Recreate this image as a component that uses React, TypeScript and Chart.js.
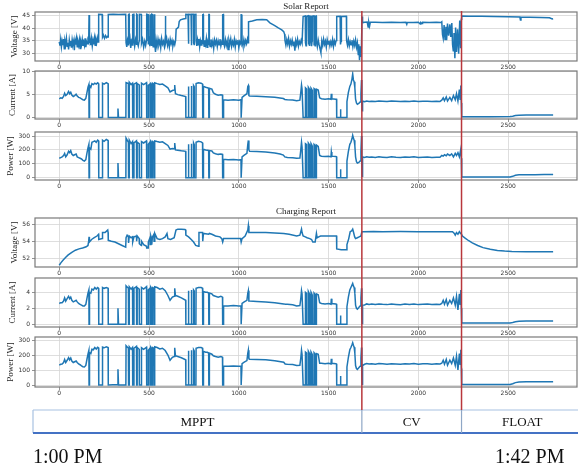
import React, { useEffect, useRef } from 'react';
import { Chart, registerables } from 'chart.js';

Chart.register(...registerables);
Chart.defaults.font.family = 'DejaVu Sans';

type Pt = [number, number];

const X_TICKS = [0, 500, 1000, 1500, 2000, 2500];
const X_MIN = -135;
const X_MAX = 2883;
const PHASE_BOUNDS = [1685, 2240];
const PHASE_LABELS = ['MPPT', 'CV', 'FLOAT'];
const TIME_LABELS = ['1:00 PM', '1:42 PM'];
const REPORT_TITLES = ['Solar Report', 'Charging Report'];

const solarVoltage: Pt[] = [
  [0,34.5],[4,33],[8,35.5],[12,32.5],[16,34.8],[20,33.2],[24,35.6],[28,31.8],[32,34.9],[36,33.5],[40,35.9],[44,32.8],[48,34.2],[52,31.5],[56,35.2],[60,33.1],[64,34.9],[68,32.2],[72,35.4],[76,33.6],[80,34.8],[84,31.2],[88,35.1],[92,33.4],[96,35.8],[100,32.6],[104,34.6],[108,33.2],[112,35.3],[116,31.9],[120,34.7],[124,33.5],[128,35.5],[132,32.9],[136,34.4],[140,33.1],[144,35.9],[148,32.4],[152,34.6],[156,33.8],[160,35.2],[164,34.4],[166,45.2],[168,45.0],[169,34.1],[172,35.4],[176,33.2],[180,35.8],[184,32.9],[188,35.1],[192,33.5],[196,36],[200,33.2],[204,35.4],[208,34.1],[212,36.1],[216,34.5],[219,35.2],
  [220,45.5],[239,45.4],[241,36.4],[246,37.2],[252,35.9],[258,37.0],[264,36.2],[270,36.8],[272,36.5],[273,45.4],[300,45.5],[330,45.4],[370,45.5],
  [371,45.5],[372,34.2],[376,32.5],[380,35.1],[385,33.4],[386,45.4],[389,45.5],[390,33.8],[394,35.6],[398,32.1],[403,34.7],[408,33.3],[409,45.4],[415,45.5],[416,34.9],[420,32.8],[425,35.4],[430,33.6],[431,45.5],[433,45.4],[434,34.5],[440,32.9],[445,35.0],[446,45.5],[457,45.4],[458,33.9],[464,35.5],[470,32.4],[476,34.8],[481,33.1],[486,35.2],[487,45.5],[495,45.4],[496,33.5],[500,35.1],[505,32.8],[506,45.4],[509,45.5],[510,34.6],[514,33.2],[515,45.5],[518,45.4],[519,35.3],[523,32.6],[527,34.4],[528,45.5],[531,45.5],[532,33.8],
  [536,30.5],[540,35.2],[545,32.9],[550,35.6],[555,33.4],[560,34.9],[565,32.2],[570,35.8],[575,33.6],[580,34.7],[585,32.8],[589,35.4],[591,44.8],[593,34.0],[598,35.9],[603,33.1],[608,34.8],[613,32.5],[618,35.5],[623,33.7],[628,35.1],[633,32.9],[638,34.6],[643,33.4],[648,35.2],
  [651,39.6],[658,40.0],[664,40.4],[668,42.6],[675,43.3],[690,43.6],[704,43.8],
  [705,45.5],[717,45.4],[718,34.5],[721,33.8],[722,45.5],[734,45.4],[735,33.2],[737,34.6],[738,45.5],[747,45.5],[748,34.1],[751,33.5],[752,45.4],[761,45.5],
  [762,34.8],[766,32.9],[770,35.3],[774,33.4],[778,35.7],[782,32.6],[786,34.9],[790,33.3],[794,35.4],[798,33.9],[799,45.3],[802,45.4],[803,34.7],[807,32.8],[811,35.2],[815,33.6],[819,35.8],[823,32.4],[827,34.6],[832,33.5],[833,45.4],[835,45.4],[836,34.3],[840,32.7],[845,35.5],[850,33.2],[855,34.8],[860,31.9],[865,35.3],[870,33.7],[875,35.1],[880,32.6],[885,34.9],[890,33.4],[895,35.6],[900,32.9],[905,34.5],[909,33.6],[910,45.3],[914,45.4],[915,34.2],[920,32.8],[925,35.4],[930,33.1],[935,34.9],[940,31.5],[945,35.2],[950,33.6],[955,35.7],[960,32.7],[965,34.6],[970,33.3],[975,35.5],[980,32.4],[985,34.9],[990,33.7],[995,35.3],[1000,32.2],[1005,34.6],[1012,33.5],[1013,45.3],[1017,45.4],[1018,34.6],[1023,32.9],[1028,35.4],[1033,33.3],[1038,35.1],[1043,33.8],[1048,35.6],[1052,34.2],
  [1054,42.5],[1075,42.8],[1100,43.3],[1130,43.4],[1155,43.3],[1173,42.1],[1200,41.0],[1220,40.1],[1239,39.3],[1250,38.6],[1255,37.5],
  [1257,35.1],[1262,33.2],[1267,35.4],[1272,33.7],[1277,35.8],[1282,32.9],[1287,34.9],[1292,33.5],[1297,35.3],[1302,33.1],[1307,34.7],[1312,31.0],[1317,35.0],[1322,33.4],[1327,35.5],[1332,32.8],[1337,34.6],[1342,33.6],[1347,35.2],[1352,34.0],
  [1358,44.6],[1370,44.8],[1371,34.2],[1374,33.0],[1376,35.1],[1377,44.7],[1386,44.9],[1387,33.5],[1390,35.0],[1393,33.2],[1394,44.8],[1401,44.7],[1402,34.6],[1405,32.8],[1408,34.9],[1409,44.8],[1418,44.9],[1419,33.4],[1422,35.2],[1425,33.0],[1426,44.7],[1431,44.8],
  [1432,34.8],[1437,32.6],[1442,35.3],[1447,33.4],[1452,31.8],[1457,30.2],[1462,34.9],[1467,33.1],[1472,35.6],[1477,33.5],[1482,34.8],[1487,32.4],[1492,35.4],[1497,33.7],[1502,35.0],[1507,32.9],[1512,34.6],[1517,33.3],[1522,35.5],[1527,32.7],[1532,34.9],[1537,33.6],[1542,35.1],
  [1545,44.6],[1564,44.7],[1566,33.5],[1569,34.8],[1571,44.6],[1599,44.7],
  [1600,35.0],[1605,33.2],[1610,35.4],[1615,32.9],[1620,34.6],[1625,33.4],[1630,35.2],[1635,32.6],[1640,34.8],[1645,33.1],[1650,35.3],[1655,32.4],[1660,34.2],[1665,29.5],[1668,33.6],[1672,27.2],[1676,32.8],[1680,28.5],[1683,33.5],
  [1686,44.6],[1689,42.1],[1700,42.3],[1715,42.4],[1720,40.4],[1724,42.2],[1728,40.8],[1732,42.3],[1760,42.3],[1800,42.25],[1850,42.3],[1900,42.2],[1930,42.3],[1935,41.5],[1938,42.2],[1970,42.25],[2000,42.3],[2010,41.6],[2013,42.2],[2020,41.8],[2023,42.3],[2060,42.25],[2100,42.3],[2125,42.2],
  [2130,42.5],[2134,37.5],[2138,36.0],[2143,41.2],[2148,35.5],[2153,40.5],[2157,35.2],[2162,41.8],[2168,37.0],[2175,41.5],[2180,36.5],[2186,42.0],[2190,33.5],[2194,31.0],[2198,38.0],[2203,28.0],[2207,40.2],[2212,30.5],[2218,39.5],[2224,29.8],[2230,43.0],[2235,32.0],[2239,43.5],
  [2241,44.8],[2280,44.75],[2350,44.7],[2420,44.6],[2500,44.5],[2565,44.4],[2568,43.2],[2571,44.4],[2620,44.3],[2680,44.2],[2730,44.1],[2745,43.6],[2750,43.7],
];

const solarCurrent: Pt[] = [
  [0,4.1],[8,4.3],[16,4.2],[24,4.6],[30,5.3],[36,4.8],[44,5.1],[52,5.7],[58,5.2],[64,5.5],[70,4.9],[78,4.6],[86,4.8],[94,5.1],[100,4.7],[108,4.4],[116,4.3],[124,4.1],[132,3.9],[140,3.8],[148,4.2],[154,5.4],[160,6.6],[165,7.2],[166,0],[168,0],[169,7.0],[176,6.6],[182,7.4],[190,7.2],[198,7.5],[206,7.3],[214,7.6],[219,7.4],[220,0],[240,0],[241,7.5],[250,7.3],[262,7.6],[272,7.4],[273,0],[326,0],[327,2.0],[330,0],[371,0],
  [372,7.6],[385,7.4],[386,0],[389,0],[390,7.7],[400,7.2],[408,7.5],[409,0],[415,0],[416,7.3],[430,7.6],[431,0],[433,0],[434,7.4],[445,7.1],[446,0],[457,0],[458,7.5],[470,7.2],[486,7.6],[487,0],[495,0],[496,7.0],[505,7.3],[506,0],[509,0],[510,7.4],[514,7.2],[515,0],[518,0],[519,7.5],[527,7.3],[528,0],[531,0],[532,7.6],
  [545,7.4],[560,7.2],[575,7.3],[590,6.9],[605,6.5],[617,5.6],[630,5.9],[640,6.0],[643,7.1],[647,5.2],[660,5.0],[680,4.8],[704,4.6],
  [705,0],[717,0],[718,6.5],[721,6.8],[722,0],[734,0],[735,6.6],[737,6.9],[738,0],[747,0],[748,7.0],[751,6.8],[752,0],[761,0],[762,7.4],[775,7.6],[790,7.5],[798,7.3],[799,0],[802,0],[803,6.8],[815,6.6],[825,6.5],[832,6.4],[833,0],[835,0],[836,6.4],[850,6.2],[858,5.4],[870,5.1],[885,4.9],[900,5.0],[909,4.9],[910,0],[914,0],[915,3.9],[940,3.8],[970,3.9],[1000,3.8],[1012,3.9],[1013,0],[1017,0],[1018,4.4],[1030,4.8],[1045,5.2],[1050,6.8],[1053,7.0],[1056,4.8],
  [1060,4.7],[1100,4.65],[1150,4.55],[1200,4.45],[1248,4.15],[1256,3.95],
  [1270,3.9],[1300,3.85],[1322,3.7],[1340,3.8],[1345,5.5],[1349,7.1],[1352,6.2],[1358,0],
  [1370,0],[1371,6.5],[1376,6.3],[1377,0],[1386,0],[1387,6.6],[1393,6.2],[1394,0],[1401,0],[1402,6.4],[1408,6.0],[1409,0],[1418,0],[1419,6.3],[1425,6.1],[1426,0],[1431,0],[1432,6.2],[1442,6.0],[1450,4.3],
  [1460,4.1],[1480,4.0],[1500,4.1],[1513,4.0],[1515,5.2],[1518,4.1],[1540,4.0],[1544,4.0],[1545,0],[1565,0],[1566,1.8],[1568,0],[1600,0],
  [1602,3.5],[1610,5.5],[1618,6.8],[1624,7.3],[1630,8.4],[1634,9.5],[1638,8.2],[1642,7.8],[1646,6.5],[1650,4.0],[1655,3.2],[1660,2.9],[1668,3.1],[1675,3.4],[1680,5.2],[1683,8.2],[1685,3.2],[1687,1.5],[1689,3.6],
  [1700,3.45],[1712,3.62],[1725,3.5],[1740,3.58],[1760,3.52],[1780,3.6],[1800,3.55],[1825,3.5],[1850,3.6],[1875,3.54],[1900,3.5],[1925,3.58],[1950,3.53],[1975,3.6],[2000,3.5],[2025,3.55],[2050,3.58],[2075,3.5],[2100,3.56],[2120,3.52],[2130,3.8],[2138,4.3],[2145,3.7],[2155,4.5],[2162,3.6],[2175,4.4],[2185,3.7],[2195,4.8],[2205,3.9],[2212,5.2],[2220,3.6],[2228,6.1],[2232,4.0],[2236,7.0],[2239,3.2],
  [2241,0.2],[2300,0.2],[2400,0.2],[2510,0.22],[2525,0.3],[2540,0.45],[2560,0.52],[2600,0.55],[2650,0.55],[2700,0.56],[2750,0.57],
];

const solarPower: Pt[] = [
  [0,140],[8,145],[16,150],[24,160],[30,175],[36,150],[44,165],[52,190],[58,180],[64,195],[70,170],[78,160],[86,165],[94,170],[100,150],[108,145],[116,140],[124,135],[132,125],[140,120],[148,130],[154,175],[160,215],[165,240],[166,0],[168,0],[169,215],[176,205],[182,255],[190,260],[198,265],[206,255],[214,270],[219,265],[220,0],[240,0],[241,270],[250,262],[262,275],[272,268],[273,0],[326,0],[327,105],[330,0],[371,0],
  [372,285],[385,255],[386,0],[389,0],[390,270],[400,245],[408,260],[409,0],[415,0],[416,250],[430,265],[431,0],[433,0],[434,255],[445,245],[446,0],[457,0],[458,260],[470,250],[486,265],[487,0],[495,0],[496,240],[505,255],[506,0],[509,0],[510,260],[514,250],[515,0],[518,0],[519,262],[527,255],[528,0],[531,0],[532,265],
  [545,260],[560,255],[575,258],[590,245],[605,232],[617,205],[630,210],[640,208],[643,250],[647,200],[660,198],[680,194],[704,190],
  [705,0],[717,0],[718,230],[721,240],[722,0],[734,0],[735,235],[737,245],[738,0],[747,0],[748,250],[751,240],[752,0],[761,0],[762,255],[775,262],[790,258],[798,250],[799,0],[802,0],[803,205],[815,200],[825,197],[832,195],[833,0],[835,0],[836,195],[850,192],[858,178],[870,172],[885,168],[900,170],[909,168],[910,0],[914,0],[915,132],[940,130],[970,131],[1000,128],[1012,130],[1013,0],[1017,0],[1018,150],[1030,162],[1045,175],[1050,240],[1053,268],[1056,200],
  [1060,190],[1100,188],[1150,185],[1200,178],[1230,170],[1248,163],[1256,150],
  [1270,145],[1300,143],[1322,140],[1340,142],[1345,200],[1349,255],[1352,220],[1358,0],
  [1370,0],[1371,245],[1376,240],[1377,0],[1386,0],[1387,250],[1393,238],[1394,0],[1401,0],[1402,245],[1408,230],[1409,0],[1418,0],[1419,240],[1425,232],[1426,0],[1431,0],[1432,235],[1442,225],[1450,160],
  [1460,155],[1480,152],[1500,155],[1513,150],[1515,185],[1518,155],[1540,152],[1544,150],[1545,0],[1565,0],[1566,60],[1568,0],[1600,0],
  [1602,120],[1610,190],[1618,240],[1624,255],[1630,280],[1634,305],[1638,285],[1642,270],[1646,230],[1650,150],[1655,115],[1660,105],[1668,110],[1675,120],[1680,190],[1683,300],[1685,120],[1687,10],[1689,150],
  [1700,146],[1712,150],[1725,147],[1740,149],[1760,146],[1780,150],[1800,148],[1825,146],[1850,150],[1875,147],[1900,146],[1925,149],[1950,147],[1975,150],[2000,146],[2025,148],[2050,149],[2075,146],[2100,148],[2120,147],[2130,160],[2138,155],[2145,165],[2155,158],[2162,170],[2175,160],[2185,172],[2195,150],[2205,175],[2212,160],[2220,180],[2228,150],[2236,205],[2239,140],
  [2241,5],[2300,5],[2400,5],[2510,5],[2525,10],[2540,18],[2560,21],[2600,22],[2650,22],[2700,23],[2750,23],
];

const chargeVoltage: Pt[] = [
  [0,51.2],[10,51.5],[22,51.8],[35,52.1],[50,52.4],[70,52.7],[90,52.95],[110,53.1],[130,53.2],[150,53.35],[160,53.5],[164,54.0],[166,54.5],[168,53.9],[180,54.2],[195,54.4],[210,54.6],[219,54.8],[220,54.2],[239,54.3],[241,55.0],[255,55.0],[265,55.2],[270,55.3],[272,55.0],[273,54.1],[290,54.0],[310,53.9],[330,53.7],[350,53.5],[370,53.3],
  [372,54.4],[378,54.7],[385,54.5],[386,53.8],[390,54.6],[400,54.4],[408,54.5],[409,53.9],[416,54.5],[430,54.6],[431,54.0],[434,54.6],[445,54.3],[446,53.7],[457,53.5],[458,54.0],[470,53.6],[486,53.4],[487,53.2],[495,53.2],[496,53.9],[505,54.4],[506,53.6],[510,54.6],[514,54.3],[515,53.6],[519,54.5],[527,54.8],[528,54.0],[532,54.9],
  [545,54.3],[560,54.2],[575,54.3],[590,54.5],[600,54.9],[605,54.3],[620,54.2],[640,54.4],[650,55.3],[660,55.4],[680,55.4],[700,55.35],[704,55.3],
  [705,54.7],[720,54.5],[735,54.2],[748,53.9],[760,53.5],[775,53.4],[778,55.0],[790,55.0],[798,55.0],[799,54.0],[803,54.9],[832,54.8],[836,54.9],[850,54.8],[870,54.6],[895,54.5],[905,54.3],[910,53.9],[915,54.3],[960,54.3],[1010,54.3],[1013,53.9],[1018,54.3],[1035,54.6],[1050,55.3],[1053,55.8],[1056,55.0],
  [1100,55.0],[1150,55.0],[1200,54.95],[1250,54.9],[1280,54.8],[1322,54.6],[1340,54.7],[1349,55.4],[1352,55.0],[1358,54.6],[1370,54.5],[1380,54.4],[1395,54.3],[1405,54.2],[1412,53.9],[1425,53.9],[1432,54.9],[1436,54.4],[1445,54.5],[1455,54.6],[1500,54.6],[1544,54.6],
  [1545,53.1],[1570,53.0],[1599,53.0],[1602,53.6],[1612,54.3],[1620,55.1],[1628,55.2],[1634,55.4],[1638,55.1],[1645,54.5],[1650,54.3],[1660,54.4],[1670,54.5],[1680,54.6],[1685,55.1],
  [1690,55.1],[1750,55.12],[1800,55.1],[1900,55.12],[2000,55.1],[2100,55.1],[2190,55.1],[2200,54.9],[2205,54.7],[2212,55.0],[2220,54.8],[2228,55.1],[2235,54.9],[2240,54.8],
  [2245,54.6],[2260,54.35],[2280,54.05],[2300,53.8],[2330,53.5],[2360,53.25],[2400,53.05],[2440,52.92],[2480,52.85],[2520,52.8],[2600,52.78],[2700,52.78],[2750,52.78],
];

const chargeCurrent: Pt[] = [
  [0,2.6],[8,2.7],[16,2.7],[24,2.9],[30,3.3],[36,2.9],[44,3.2],[52,3.5],[58,3.2],[64,3.4],[70,3.0],[78,2.8],[86,2.9],[94,3.0],[100,2.8],[108,2.6],[116,2.5],[124,2.4],[132,2.3],[140,2.3],[148,2.5],[154,3.2],[160,3.9],[165,4.3],[166,0],[168,0],[169,4.0],[176,3.9],[182,4.4],[190,4.3],[198,4.6],[206,4.4],[214,4.6],[219,4.5],[220,0],[240,0],[241,4.6],[250,4.5],[262,4.6],[272,4.5],[273,0],[326,0.05],[327,2.0],[330,0],[371,0],
  [372,4.8],[385,4.5],[386,0],[389,0],[390,4.7],[400,4.4],[408,4.6],[409,0],[415,0],[416,4.5],[430,4.7],[431,0],[433,0],[434,4.6],[445,4.4],[446,0],[457,0],[458,4.6],[470,4.4],[486,4.7],[487,0],[495,0],[496,4.3],[505,4.5],[506,0],[509,0],[510,4.6],[514,4.4],[515,0],[518,0],[519,4.6],[527,4.5],[528,0],[531,0],[532,4.7],
  [545,4.6],[560,4.4],[575,4.5],[590,4.2],[605,3.6],[617,3.0],[630,3.4],[640,3.5],[643,4.5],[647,3.6],[660,3.5],[680,3.3],[704,3.0],
  [705,0],[717,0],[718,4.0],[721,4.2],[722,0],[734,0],[735,4.1],[737,4.3],[738,0],[747,0],[748,4.3],[751,4.2],[752,0],[761,0],[762,4.5],[775,4.6],[790,4.6],[798,4.5],[799,0],[802,0],[803,4.1],[815,4.0],[825,4.0],[832,3.9],[833,0],[835,0],[836,3.9],[850,3.8],[858,3.6],[870,3.5],[885,3.4],[900,3.5],[909,3.4],[910,0],[914,0],[915,2.3],[940,2.3],[970,2.35],[1000,2.3],[1012,2.3],[1013,0],[1017,0],[1018,2.6],[1030,2.8],[1045,3.0],[1050,3.9],[1053,4.2],[1056,2.9],
  [1060,2.9],[1100,2.85],[1150,2.8],[1200,2.7],[1250,2.55],[1258,2.5],
  [1270,2.5],[1300,2.45],[1322,2.3],[1340,2.35],[1345,3.2],[1349,4.2],[1352,3.8],[1358,0],
  [1370,0],[1371,4.0],[1376,3.9],[1377,0],[1386,0],[1387,4.1],[1393,3.8],[1394,0],[1401,0],[1402,4.0],[1408,3.7],[1409,0],[1418,0],[1419,3.9],[1425,3.7],[1426,0],[1431,0],[1432,3.8],[1442,3.7],[1450,2.7],
  [1460,2.6],[1480,2.55],[1500,2.6],[1513,2.5],[1515,3.2],[1518,2.6],[1540,2.55],[1544,2.5],[1545,0],[1565,0],[1566,1.1],[1568,0],[1600,0],
  [1602,2.2],[1610,3.4],[1618,4.3],[1624,4.6],[1630,4.9],[1634,5.1],[1638,4.8],[1642,4.6],[1646,3.9],[1650,2.4],[1655,2.0],[1660,1.9],[1668,2.1],[1675,2.3],[1680,3.3],[1683,4.5],[1685,1.0],[1687,0.1],[1689,2.4],
  [1700,2.42],[1712,2.55],[1725,2.48],[1740,2.53],[1760,2.47],[1780,2.55],[1800,2.5],[1825,2.46],[1850,2.54],[1875,2.49],[1900,2.45],[1925,2.53],[1950,2.48],[1975,2.54],[2000,2.46],[2025,2.5],[2050,2.53],[2075,2.46],[2100,2.51],[2120,2.48],[2130,2.6],[2138,3.0],[2145,2.5],[2155,3.1],[2162,2.4],[2175,3.0],[2185,2.6],[2195,3.3],[2205,2.4],[2212,3.5],[2220,1.8],[2228,3.8],[2232,2.5],[2236,4.3],[2239,2.0],
  [2241,0.15],[2300,0.15],[2400,0.15],[2510,0.16],[2525,0.22],[2540,0.32],[2560,0.38],[2600,0.4],[2700,0.41],[2750,0.42],
];

const chargePower: Pt[] = [
  [0,133],[8,138],[16,140],[24,150],[30,170],[36,150],[44,165],[52,183],[58,168],[64,180],[70,160],[78,150],[86,155],[94,160],[100,150],[108,140],[116,135],[124,128],[132,122],[140,120],[148,130],[154,170],[160,205],[165,230],[166,0],[168,0],[169,215],[176,210],[182,238],[190,235],[198,250],[206,240],[214,252],[219,248],[220,0],[240,0],[241,252],[250,248],[262,255],[272,250],[273,0],[326,3],[327,105],[330,0],[371,0],
  [372,262],[385,245],[386,0],[389,0],[390,255],[400,238],[408,250],[409,0],[415,0],[416,245],[430,258],[431,0],[433,0],[434,250],[445,238],[446,0],[457,0],[458,248],[470,238],[486,252],[487,0],[495,0],[496,232],[505,245],[506,0],[509,0],[510,250],[514,240],[515,0],[518,0],[519,250],[527,245],[528,0],[531,0],[532,255],
  [545,250],[560,240],[575,245],[590,230],[605,200],[617,165],[630,185],[640,190],[643,248],[647,195],[660,190],[680,182],[704,168],
  [705,0],[717,0],[718,218],[721,228],[722,0],[734,0],[735,222],[737,232],[738,0],[747,0],[748,235],[751,228],[752,0],[761,0],[762,245],[775,250],[790,250],[798,245],[799,0],[802,0],[803,224],[815,218],[825,218],[832,212],[833,0],[835,0],[836,212],[850,205],[858,195],[870,190],[885,185],[900,190],[909,185],[910,0],[914,0],[915,125],[940,125],[970,127],[1000,125],[1012,125],[1013,0],[1017,0],[1018,142],[1030,152],[1045,163],[1050,212],[1053,232],[1056,175],
  [1060,172],[1100,170],[1150,168],[1200,162],[1250,152],[1258,140],
  [1270,138],[1300,136],[1322,130],[1340,132],[1345,180],[1349,232],[1352,205],[1358,0],
  [1370,0],[1371,220],[1376,215],[1377,0],[1386,0],[1387,225],[1393,210],[1394,0],[1401,0],[1402,220],[1408,205],[1409,0],[1418,0],[1419,215],[1425,205],[1426,0],[1431,0],[1432,210],[1442,205],[1450,145],
  [1460,145],[1480,142],[1500,145],[1513,140],[1515,175],[1518,145],[1540,142],[1544,140],[1545,0],[1565,0],[1566,60],[1568,0],[1600,0],
  [1602,120],[1610,185],[1618,235],[1624,250],[1630,268],[1634,282],[1638,265],[1642,252],[1646,212],[1650,130],[1655,110],[1660,104],[1668,115],[1675,125],[1680,180],[1683,250],[1685,55],[1687,5],[1689,130],
  [1700,138],[1712,143],[1725,140],[1740,142],[1760,139],[1780,143],[1800,141],[1825,139],[1850,142],[1875,140],[1900,138],[1925,142],[1950,140],[1975,143],[2000,139],[2025,141],[2050,142],[2075,139],[2100,141],[2120,140],[2130,145],[2138,165],[2145,138],[2155,170],[2162,132],[2175,165],[2185,143],[2195,180],[2205,132],[2212,192],[2220,100],[2228,210],[2232,138],[2236,235],[2239,110],
  [2241,3],[2300,3],[2400,3],[2510,3],[2525,8],[2540,16],[2560,20],[2600,21],[2700,22],[2750,22],
];

const PANELS = [
  { data: solarVoltage, label: 'Voltage [V]', min: 26.9, max: 46.4, ticks: [30, 35, 40, 45], top: 12, bottom: 61, titleX: 15 },
  { data: solarCurrent, label: 'Current [A]', min: -0.3, max: 10.15, ticks: [0, 5, 10], top: 71, bottom: 119, titleX: 13 },
  { data: solarPower, label: 'Power [W]', min: -16.5, max: 329, ticks: [0, 100, 200, 300], top: 132, bottom: 180, titleX: 11 },
  { data: chargeVoltage, label: 'Voltage [V]', min: 50.99, max: 56.7, ticks: [52, 54, 56], top: 218, bottom: 267, titleX: 15 },
  { data: chargeCurrent, label: 'Current [A]', min: -0.34, max: 5.79, ticks: [0, 2, 4], top: 278, bottom: 327, titleX: 13 },
  { data: chargePower, label: 'Power [W]', min: -13.3, max: 320, ticks: [0, 100, 200, 300], top: 337, bottom: 387, titleX: 11 },
];

const W = 578;
const H = 463;
const PAD_TOP = 8;
const X_AXIS_H = 12;
const Y_AXIS_W = 35;
const BAND_TOP = 410;
const BAND_BOTTOM = 433;
const BAND_LEFT = 33;
const BAND_RIGHT = 583;
const RED_TOP = 11;

const framePlugin = {
  id: 'frame',
  afterDraw(chart: any) {
    const { ctx, chartArea: a } = chart;
    ctx.save();
    ctx.strokeStyle = '#7a7a7a';
    ctx.lineWidth = 1.2;
    ctx.strokeRect(a.left, a.top, a.right - a.left, a.bottom - a.top);
    ctx.restore();
  },
};

function makeConfig(p: typeof PANELS[number]): any {
  const grid = { color: '#d6d6d6', lineWidth: 0.8, tickLength: 3, tickColor: '#777', drawTicks: true };
  return {
    type: 'line',
    data: {
      datasets: [{
        data: p.data.map(([x, y]) => ({ x, y })),
        borderColor: '#1f77b4',
        borderWidth: 1.5,
        pointRadius: 0,
        tension: 0,
        fill: false,
      }],
    },
    options: {
      animation: false,
      responsive: false,
      maintainAspectRatio: false,
      events: [],
      layout: { padding: { top: PAD_TOP, right: 1, bottom: 0, left: 0 } },
      plugins: { legend: { display: false }, tooltip: { enabled: false } },
      scales: {
        x: {
          type: 'linear',
          min: X_MIN,
          max: X_MAX,
          afterBuildTicks: (s: any) => { s.ticks = X_TICKS.map((v) => ({ value: v })); },
          afterFit: (s: any) => { s.height = X_AXIS_H; s.paddingLeft = 0; s.paddingRight = 0; },
          grid,
          border: { display: false },
          ticks: { font: { size: 6, family: 'DejaVu Sans' }, color: '#333', padding: 0, maxRotation: 0, autoSkip: false, callback: (v: number) => String(v) },
        },
        y: {
          type: 'linear',
          min: p.min,
          max: p.max,
          afterBuildTicks: (s: any) => { s.ticks = p.ticks.map((v) => ({ value: v })); },
          afterFit: (s: any) => { s.width = Y_AXIS_W; s.paddingTop = 0; s.paddingBottom = 0; },
          grid,
          border: { display: false },
          ticks: { font: { size: 6, family: 'DejaVu Sans' }, color: '#333', padding: 2, autoSkip: false, callback: (v: number) => String(v) },
          title: {
            display: true,
            text: p.label,
            color: '#222',
            font: { family: 'Liberation Serif', size: 9 },
            padding: { top: p.titleX - 5.4, bottom: 0 },
          },
        },
      },
    },
    plugins: [framePlugin],
  };
}

export default function App() {
  const canvases = useRef<(HTMLCanvasElement | null)[]>([]);
  const overlay = useRef<HTMLCanvasElement | null>(null);

  useEffect(() => {
    const charts = PANELS.map((p, i) => new Chart(canvases.current[i] as HTMLCanvasElement, makeConfig(p)));
    const xs = charts[0].scales.x;
    const bx = PHASE_BOUNDS.map((v) => xs.getPixelForValue(v));
    const ctx = (overlay.current as HTMLCanvasElement).getContext('2d') as CanvasRenderingContext2D;
    ctx.clearRect(0, 0, W, H);
    ctx.strokeStyle = '#a8c2e2';
    ctx.lineWidth = 1.2;
    ctx.beginPath();
    ctx.moveTo(BAND_LEFT, BAND_TOP);
    ctx.lineTo(W, BAND_TOP);
    ctx.moveTo(BAND_LEFT, BAND_TOP);
    ctx.lineTo(BAND_LEFT, BAND_BOTTOM);
    ctx.stroke();
    ctx.strokeStyle = '#4472c4';
    ctx.lineWidth = 2;
    ctx.beginPath();
    ctx.moveTo(BAND_LEFT, BAND_BOTTOM);
    ctx.lineTo(W, BAND_BOTTOM);
    ctx.stroke();
    bx.forEach((x) => {
      ctx.strokeStyle = '#8fa7c6';
      ctx.lineWidth = 1.2;
      ctx.beginPath();
      ctx.moveTo(x, BAND_TOP);
      ctx.lineTo(x, BAND_BOTTOM);
      ctx.stroke();
      ctx.strokeStyle = '#b8373c';
      ctx.lineWidth = 1.5;
      ctx.beginPath();
      ctx.moveTo(x, RED_TOP);
      ctx.lineTo(x, BAND_TOP);
      ctx.stroke();
    });
    const segs = [BAND_LEFT, ...bx, BAND_RIGHT];
    ctx.fillStyle = '#111';
    ctx.font = '13px "Liberation Serif"';
    ctx.textAlign = 'center';
    ctx.textBaseline = 'middle';
    PHASE_LABELS.forEach((t, i) => ctx.fillText(t, (segs[i] + segs[i + 1]) / 2, (BAND_TOP + BAND_BOTTOM) / 2 + 1));
    return () => charts.forEach((c) => c.destroy());
  }, []);

  const titleStyle = (top: number): React.CSSProperties => ({
    position: 'absolute', left: 306, top, transform: 'translate(-50%, -50%)',
    font: '9px "Liberation Serif"', color: '#222', whiteSpace: 'nowrap', lineHeight: '10px',
  });
  const timeStyle = (left: number): React.CSSProperties => ({
    position: 'absolute', left, top: 446, font: '20px "Liberation Serif"', color: '#111', whiteSpace: 'nowrap', lineHeight: '21px',
  });

  return (
    <div style={{ position: 'absolute', left: 0, top: 0, width: W, height: H, background: '#fff', overflow: 'hidden' }}>
      {PANELS.map((p, i) => (
        <canvas
          key={i}
          ref={(el) => { canvases.current[i] = el; }}
          width={W}
          height={PAD_TOP + (p.bottom - p.top) + X_AXIS_H}
          style={{ position: 'absolute', left: 0, top: p.top - PAD_TOP }}
        />
      ))}
      <div style={titleStyle(6)}>{REPORT_TITLES[0]}</div>
      <div style={titleStyle(211)}>{REPORT_TITLES[1]}</div>
      <canvas ref={overlay} width={W} height={H} style={{ position: 'absolute', left: 0, top: 0, pointerEvents: 'none' }} />
      <div style={timeStyle(33)}>{TIME_LABELS[0]}</div>
      <div style={timeStyle(495)}>{TIME_LABELS[1]}</div>
    </div>
  );
}
